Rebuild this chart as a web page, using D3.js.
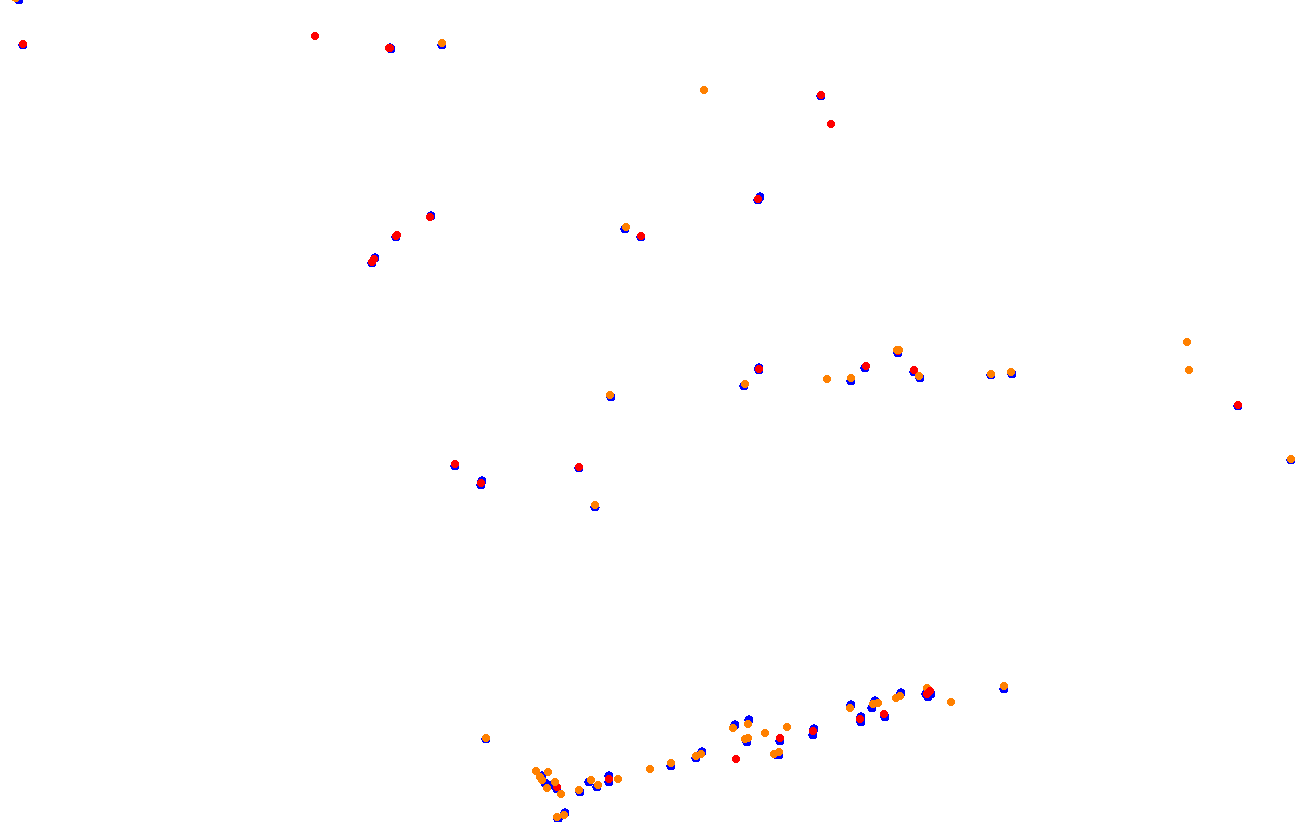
<!DOCTYPE html>
<html><head><meta charset="utf-8">
<script src="https://cdn.jsdelivr.net/npm/d3@7"></script>
<style>html,body{margin:0;padding:0;background:#fff;overflow:hidden}svg{display:block}</style>
</head><body>
<script>
const blueX=[18.5,23,391,389.5,442,821,759.5,758,430.5,625,640.5,395.5,374.5,372,1238,1291,759,759,744,851,864.5,898,914,920,991,1012,611,455,482,481,579,595,485.5,542,545,548.3,554.3,556.7,565,558,580,589.3,596.7,608.7,608.7,671,695.7,702,735,749.3,780.3,746.7,777.3,779,812.7,814,851.3,861.3,861,885,874.7,872,901.3,928.3,926,931,1004];
const blueY=[-0.5,45,48.5,48,45,96,197,199.5,216,228.5,236.5,237,258,263,406,459.5,367.5,370,385.5,380.5,368,352.5,371.5,378,374.5,373.5,397,465.5,481,485,467.5,507,739,776,783,785,785,789.3,813.3,818.7,792,782.3,787.3,775.7,782,766,758,751.7,725,720,741,741.7,755.3,755.3,734.7,729.3,705.3,716.7,722.3,716.7,701,707.7,693.3,696.7,694,694,689.3];
const redX=[23,315,390,389,831,758,430,641,396.5,395.5,373.5,372,1238,759,865.5,898,914,455,481,579,557,608.7,736,780,813,860,883.7,821];
const redY=[44,36,47.5,48,124,199,217,236,234.5,236,259,262,405,368.5,366,351,369.5,464,483,467,787.3,779.3,759,738,731.3,719.3,714,95];
const orangeX=[15.5,442,704,626,1187,1189,1291,745,827,851,896.5,899,919,990.5,1011,610,595,485.5,536,548,540,542,547,555,561,564,557,579.3,591,597.7,617.7,650,671,696,701,733.3,748,765,787,745.3,748.3,774,779,850,872.7,878.3,895.7,900.3,926.7,951,1004];
const orangeY=[-2,43,90,227,342,370,459,384,379,378,350,350,375.5,373.5,372,395,505,738,770.7,772,776.7,780,788,782,793.7,815,817,790,780.3,785,779,769,762.7,756,754,727.7,723.7,733,727,739.3,737.7,754,752.3,708,704,702.7,698,695.7,687.7,702,685.7];
const redTopX=[930,926.7];
const redTopY=[691,694];

const width=1296,height=822;
const x=d3.scaleLinear().domain([0,1296]).range([0,width]);
const y=d3.scaleLinear().domain([0,822]).range([0,height]);
const svg=d3.select("body").append("svg").attr("width",width).attr("height",height);
const layers=[[blueX,blueY,"#0000ff",4.6],[redX,redY,"#ff0000",4.3],[orangeX,orangeY,"#ff8000",4.3],[redTopX,redTopY,"#ff0000",4.3]];
layers.forEach(([xs,ys,c,r])=>{
  svg.append("g").attr("fill",c).attr("shape-rendering","crispEdges")
    .selectAll("circle").data(xs.map((v,i)=>[v,ys[i]])).join("circle")
    .attr("cx",d=>x(Math.round(d[0]))).attr("cy",d=>y(Math.round(d[1]))).attr("r",r);
});
</script>
</body></html>
